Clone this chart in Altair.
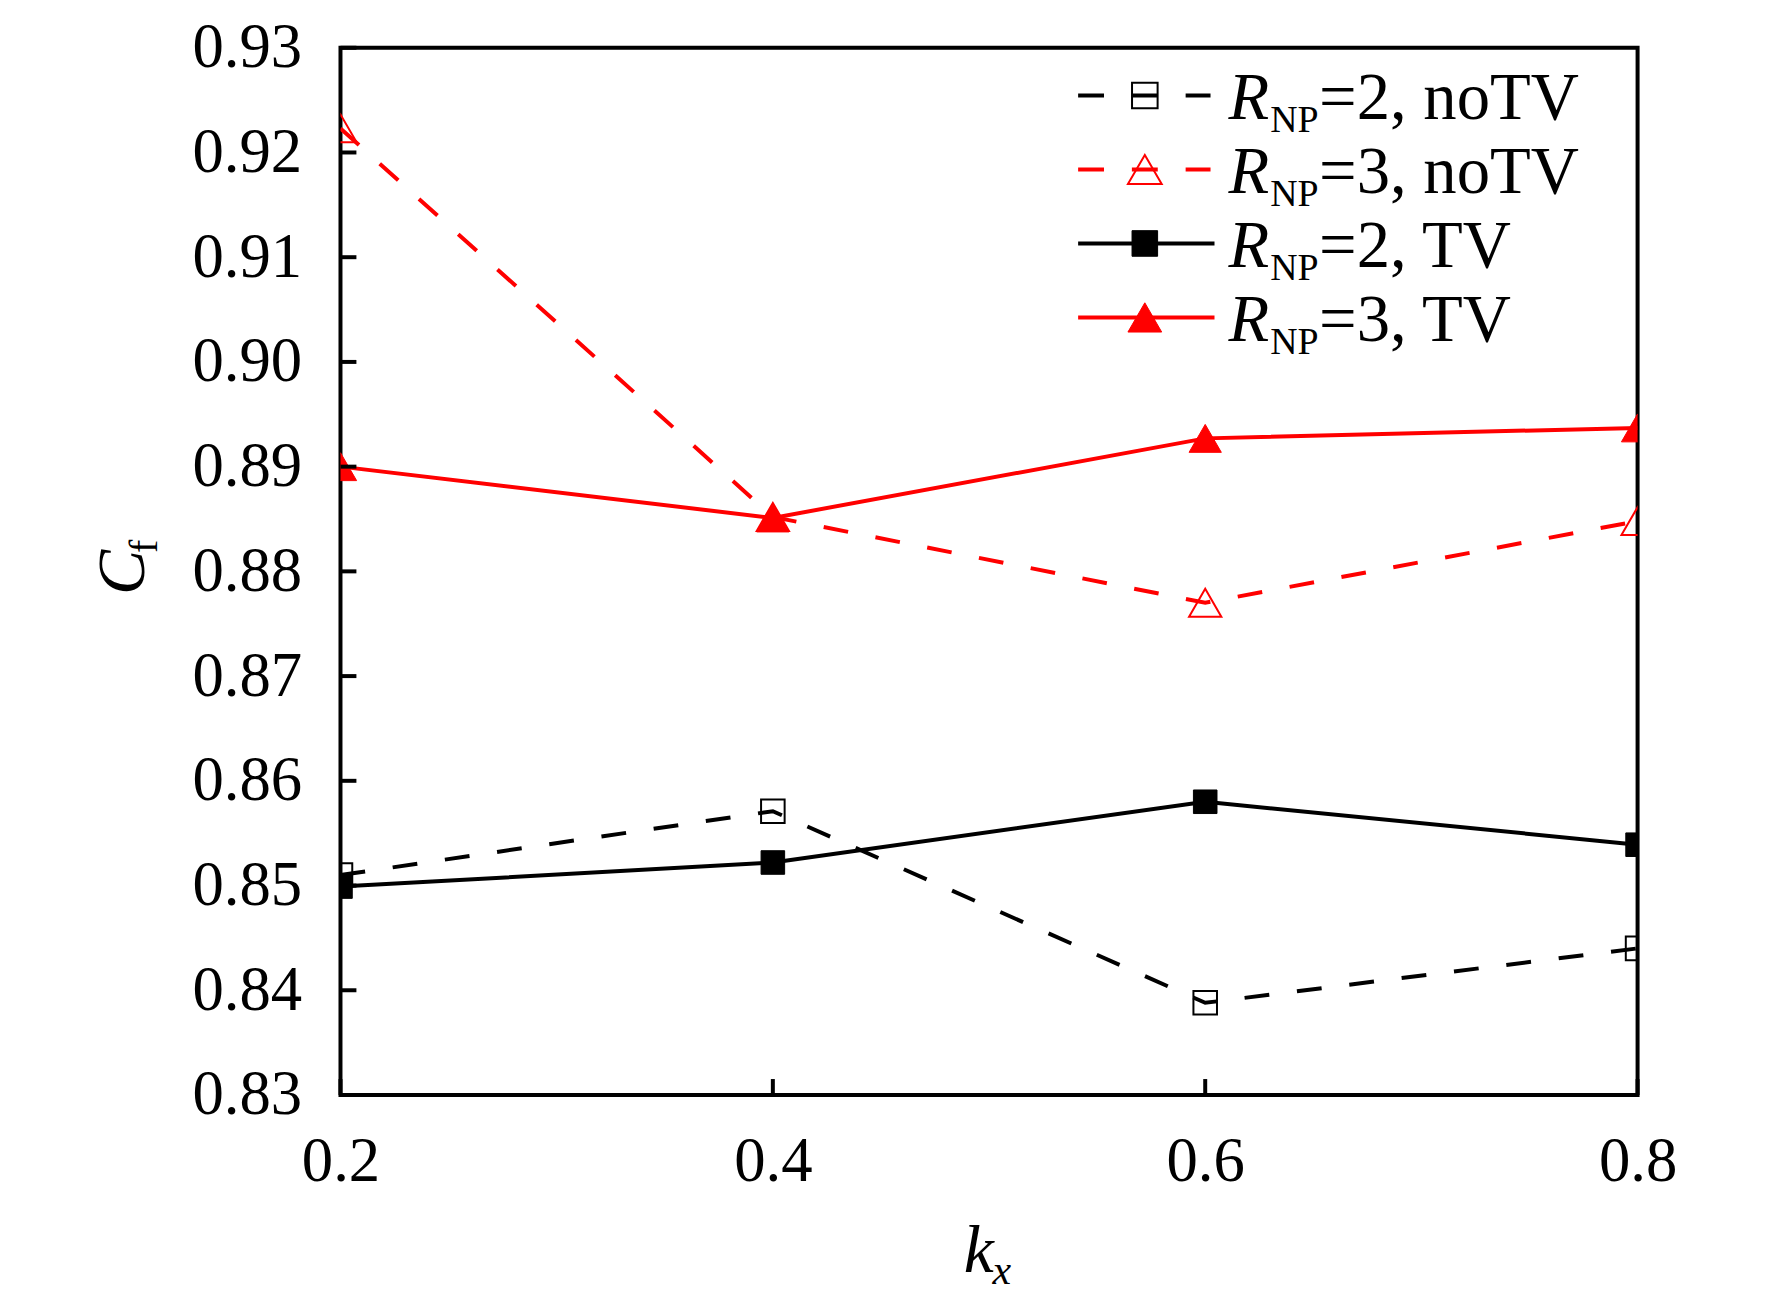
import altair as alt
import pandas as pd

# ---------------- data ----------------
kx = [0.2, 0.4, 0.6, 0.8]
cf_r2_notv = [0.8510, 0.8571, 0.8388, 0.8440]
cf_r3_notv = [0.9223, 0.8852, 0.8770, 0.8848]
cf_r2_tv = [0.8499, 0.8522, 0.8580, 0.8539]
cf_r3_tv = [0.8900, 0.8851, 0.8927, 0.8937]

series_keys = ["r2_notv", "r3_notv", "r2_tv", "r3_tv"]
series_num = ["2", "3", "2", "3"]
series_tail = ["noTV", "noTV", "TV", "TV"]
series_vals = [cf_r2_notv, cf_r3_notv, cf_r2_tv, cf_r3_tv]

y_ticks = [0.83, 0.84, 0.85, 0.86, 0.87, 0.88, 0.89, 0.90, 0.91, 0.92, 0.93]
x_ticks = [0.2, 0.4, 0.6, 0.8]

# ---------------- styles / layout ----------------
FONT = "Liberation Serif, Times New Roman, Tinos, DejaVu Serif, serif"
W, H = 1303, 1052
TOP = 37
RED = "#ff0000"
BLACK = "#000000"
DASH = [25, 28]
colors = {"r2_notv": BLACK, "r3_notv": RED, "r2_tv": BLACK, "r3_tv": RED}
dashed = {"r2_notv": True, "r3_notv": True, "r2_tv": False, "r3_tv": False}
shapes = {"r2_notv": "square", "r3_notv": "triangle-up", "r2_tv": "square", "r3_tv": "triangle-up"}
filled = {"r2_notv": False, "r3_notv": False, "r2_tv": True, "r3_tv": True}
sizes = {"square": 560, "triangle-up": 1050}

rows = []
for key, vals in zip(series_keys, series_vals):
    for x, v in zip(kx, vals):
        rows.append({"series": key, "kx": x, "cf": v})
df = pd.DataFrame(rows)

xs = alt.Scale(domain=[0.2, 0.8], nice=False, zero=False)
ys = alt.Scale(domain=[0.83, 0.93], nice=False, zero=False)

base = alt.Chart(df)
X = alt.X("kx:Q", scale=xs,
          axis=alt.Axis(values=x_ticks, format=".1f", title=None, domain=False,
                        ticks=False, tickSize=0, grid=False, labelFont=FONT,
                        labelFontSize=63, labelColor="black", labelPadding=36,
                        labelFlush=False))
Y = alt.Y("cf:Q", scale=ys,
          axis=alt.Axis(values=y_ticks, format=".2f", title=None, domain=False,
                        ticks=False, tickSize=0, grid=False, labelFont=FONT,
                        labelFontSize=63, labelColor="black", labelPadding=39,
                        labelOffset=0, labelFlush=False))

layers = []
# lines
for key in series_keys:
    kw = dict(color=colors[key], strokeWidth=4, clip=True)
    if dashed[key]:
        kw["strokeDash"] = DASH
    layers.append(base.transform_filter(alt.datum.series == key).mark_line(**kw).encode(x=X, y=Y))
# markers
for key in series_keys:
    sh = shapes[key]
    if filled[key]:
        m = dict(shape=sh, size=sizes[sh], filled=True, fill=colors[key],
                 stroke=colors[key], strokeWidth=1, opacity=1, clip=True)
    else:
        m = dict(shape=sh, size=sizes[sh], filled=False,
                 stroke=colors[key], strokeWidth=2, opacity=1, clip=True)
    layers.append(base.transform_filter(alt.datum.series == key).mark_point(**m).encode(x=X, y=Y))

# inward ticks
ytick_df = pd.DataFrame({"cf": y_ticks})
xtick_df = pd.DataFrame({"kx": x_ticks})
layers.append(alt.Chart(ytick_df).mark_rule(color="black", strokeWidth=4).encode(
    y=alt.Y("cf:Q", scale=ys), x=alt.value(0), x2=alt.value(16)))
layers.append(alt.Chart(xtick_df).mark_rule(color="black", strokeWidth=4).encode(
    x=alt.X("kx:Q", scale=xs), y=alt.value(H), y2=alt.value(H - 16)))

# legend (drawn manually for subscripts)
LEG_Y0, LEG_DY = 48, 74.3
LX0, LX1, LXM = 741, 878, 808
TX_R, TX_SUB, TX_REST = 892, 934, 983
one = pd.DataFrame({"a": [0]})
for i, key in enumerate(series_keys):
    cy = LEG_Y0 + i * LEG_DY
    rk = dict(color=colors[key], strokeWidth=4)
    if dashed[key]:
        rk["strokeDash"] = [26, 28]
    layers.append(alt.Chart(one).mark_rule(**rk).encode(
        x=alt.value(LX0), x2=alt.value(LX1 - (4 if dashed[key] else 0)), y=alt.value(cy)))
    sh = shapes[key]
    if filled[key]:
        pm = dict(shape=sh, size=sizes[sh] + 100, filled=True, fill=colors[key],
                  stroke=colors[key], strokeWidth=1, opacity=1)
    else:
        pm = dict(shape=sh, size=sizes[sh] + 100, filled=False, stroke=colors[key],
                  strokeWidth=2, opacity=1)
    layers.append(alt.Chart(one).mark_point(**pm).encode(x=alt.value(LXM), y=alt.value(cy)))
    layers.append(alt.Chart(one).mark_text(text="R", font=FONT, fontSize=67, fontStyle="italic",
                                           align="left", baseline="alphabetic", color="black").encode(
        x=alt.value(TX_R), y=alt.value(cy + 24)))
    layers.append(alt.Chart(one).mark_text(text="NP", font=FONT, fontSize=38,
                                           align="left", baseline="alphabetic", color="black").encode(
        x=alt.value(TX_SUB), y=alt.value(cy + 37)))
    layers.append(alt.Chart(one).mark_text(text="=" + series_num[i] + ", " + series_tail[i], font=FONT,
                                           fontSize=67, align="left", baseline="alphabetic",
                                           color="black").encode(
        x=alt.value(TX_REST), y=alt.value(cy + 24)))

# axis titles with subscripts
layers.append(alt.Chart(one).mark_text(text="C", font=FONT, fontSize=68, fontStyle="italic", angle=270,
                                       align="center", baseline="alphabetic", color="black").encode(
    x=alt.value(-197), y=alt.value(527)))
layers.append(alt.Chart(one).mark_text(text="f", font=FONT, fontSize=40, angle=270,
                                       align="center", baseline="alphabetic", color="black").encode(
    x=alt.value(-184), y=alt.value(501)))
layers.append(alt.Chart(one).mark_text(text="k", font=FONT, fontSize=68, fontStyle="italic",
                                       align="left", baseline="alphabetic", color="black").encode(
    x=alt.value(626), y=alt.value(1230)))
layers.append(alt.Chart(one).mark_text(text="x", font=FONT, fontSize=42, fontStyle="italic",
                                       align="left", baseline="alphabetic", color="black").encode(
    x=alt.value(655), y=alt.value(1242)))

chart = alt.layer(*layers).properties(
    width=W, height=H,
    autosize=alt.AutoSizeParams(type="none"),
    padding={"left": 334, "top": TOP, "right": 127, "bottom": 200},
    background="white",
).configure_view(stroke="black", strokeWidth=4)

chart.save("out.html", embed_options={"renderer": "svg", "actions": False})
